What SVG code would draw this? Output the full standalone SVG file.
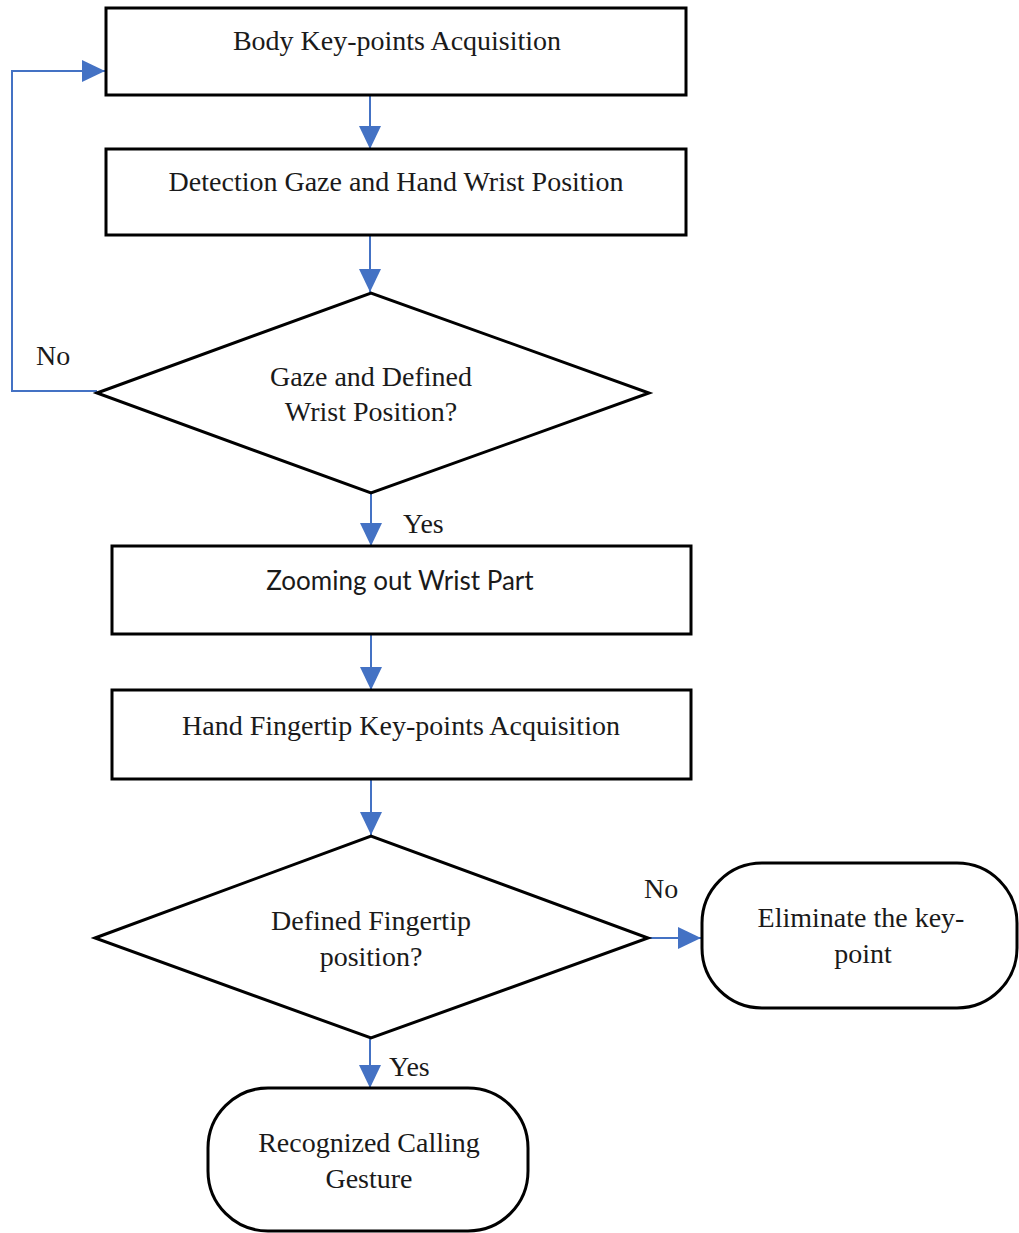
<svg xmlns="http://www.w3.org/2000/svg" width="1019" height="1233" viewBox="0 0 1019 1233">
  <style>
    .box { fill: #ffffff; stroke: #000000; stroke-width: 3; }
    .lbl { font-family: "Liberation Serif", "Times New Roman", serif; font-size: 28px; fill: #1a1a1a; text-anchor: middle; }
    .sans { font-family: Lato, "Liberation Sans", sans-serif; font-size: 26px; fill: #1a1a1a; text-anchor: middle; }
    .edge { fill: none; stroke: #4472c4; stroke-width: 2; }
    .tag { font-family: "Liberation Serif", "Times New Roman", serif; font-size: 28px; fill: #1a1a1a; }
  </style>
  <defs>
    <marker id="arrow" markerWidth="24" markerHeight="24" refX="23" refY="11" orient="auto" markerUnits="userSpaceOnUse">
      <path d="M0,0 L23,11 L0,22 Z" fill="#4472c4"/>
    </marker>
  </defs>
  <rect width="1019" height="1233" fill="#ffffff"/>

  <g id="connectors">
    <path class="edge" d="M370,95 L370,149" marker-end="url(#arrow)"/>
    <path class="edge" d="M370,235 L370,292" marker-end="url(#arrow)"/>
    <path class="edge" d="M97,391 L12,391 L12,71 L105,71" marker-end="url(#arrow)"/>
    <path class="edge" d="M371,494 L371,546" marker-end="url(#arrow)"/>
    <path class="edge" d="M371,634 L371,690" marker-end="url(#arrow)"/>
    <path class="edge" d="M371,779 L371,835" marker-end="url(#arrow)"/>
    <path class="edge" d="M648,938 L701,938" marker-end="url(#arrow)"/>
    <path class="edge" d="M370,1039 L370,1088" marker-end="url(#arrow)"/>
    <text class="tag" x="36" y="365">No</text>
    <text class="tag" x="403" y="533">Yes</text>
    <text class="tag" x="644" y="898">No</text>
    <text class="tag" x="389" y="1076">Yes</text>
  </g>

  <g id="body-keypoints">
    <rect class="box" x="106" y="8" width="580" height="87"/>
    <text class="lbl" x="397" y="50">Body Key-points Acquisition</text>
  </g>

  <g id="detect-gaze-wrist">
    <rect class="box" x="106" y="149" width="580" height="86"/>
    <text class="lbl" x="396" y="191">Detection Gaze and Hand Wrist Position</text>
  </g>

  <g id="gaze-wrist-check">
    <polygon class="box" points="97,393 371,293 649,393 371,493"/>
    <text class="lbl" x="371" y="386">Gaze and Defined</text>
    <text class="lbl" x="371" y="421">Wrist Position?</text>
  </g>

  <g id="zoom-wrist">
    <rect class="box" x="112" y="546" width="579" height="88"/>
    <text class="sans" x="400" y="590">Zooming out Wrist Part</text>
  </g>

  <g id="fingertip-keypoints">
    <rect class="box" x="112" y="690" width="579" height="89"/>
    <text class="lbl" x="401" y="735">Hand Fingertip Key-points Acquisition</text>
  </g>

  <g id="fingertip-check">
    <polygon class="box" points="95,938 371,836 648,938 371,1038"/>
    <text class="lbl" x="371" y="930">Defined Fingertip</text>
    <text class="lbl" x="371" y="966">position?</text>
  </g>

  <g id="eliminate-keypoint">
    <rect class="box" x="702" y="863" width="315" height="145" rx="60" ry="60"/>
    <text class="lbl" x="861" y="927">Eliminate the key-</text>
    <text class="lbl" x="863" y="963">point</text>
  </g>

  <g id="recognized-gesture">
    <rect class="box" x="208" y="1088" width="320" height="143" rx="60" ry="60"/>
    <text class="lbl" x="369" y="1152">Recognized Calling</text>
    <text class="lbl" x="369" y="1188">Gesture</text>
  </g>
</svg>
